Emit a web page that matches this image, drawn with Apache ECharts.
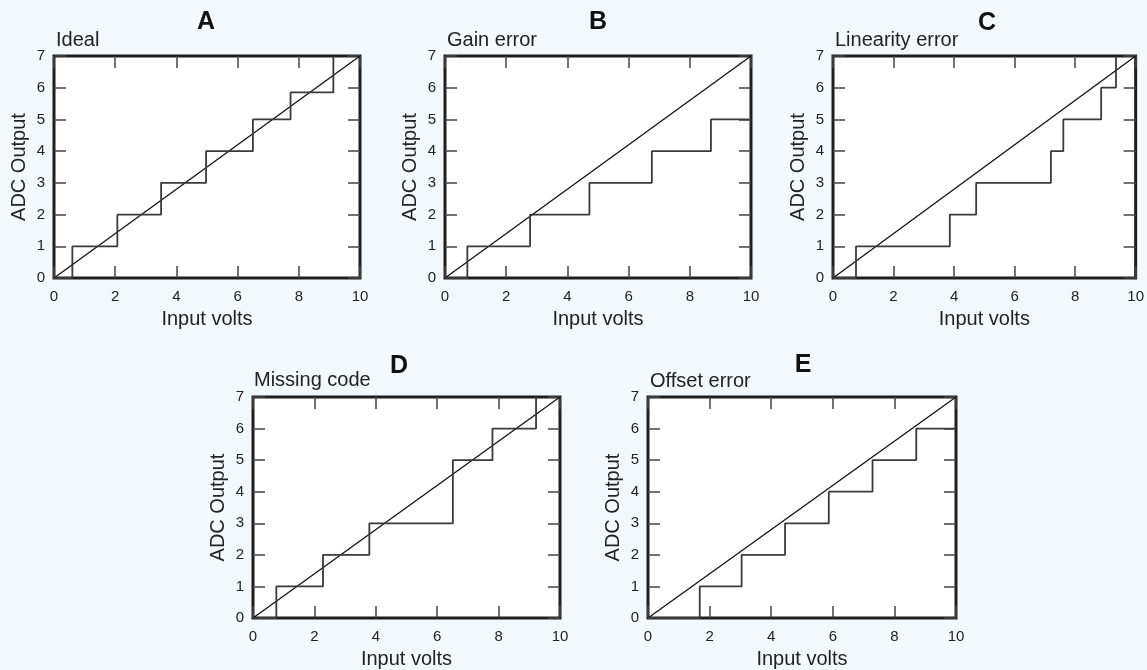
<!DOCTYPE html>
<html>
<head>
<meta charset="utf-8">
<script src="https://cdn.jsdelivr.net/npm/echarts@6/dist/echarts.min.js"></script>
<style>
html,body{margin:0;padding:0;background:#f3f8fc;}
#c{width:1147px;height:670px;}
</style>
</head>
<body>
<div id="c"></div>
<script>
// ---- data ----
const panelLetters = ['A','B','C','D','E'];
const panelNames = ['Ideal','Gain error','Linearity error','Missing code','Offset error'];
const xAxisName = 'Input volts';
const yAxisName = 'ADC Output';
const xRange = [0, 10];
const yRange = [0, 7];
const xStep = 2;
const yStep = 1;
// ideal reference line (input volts -> code)
const refX = [0, 10];
const refY = [0, 7];
// transition points of each ADC transfer curve
const idealX = [0, 0.6, 2.07, 3.5, 4.97, 6.5, 7.73, 9.13];
const idealY = [0, 1, 2, 3, 4, 5, 5.85, 7];
const gainX  = [0, 0.73, 2.78, 4.72, 6.76, 8.69, 10];
const gainY  = [0, 1, 2, 3, 4, 5, 5];
const linX   = [0, 0.76, 3.86, 4.73, 7.2, 7.61, 8.86, 9.35];
const linY   = [0, 1, 2, 3, 4, 5, 6, 7];
const missX  = [0, 0.76, 2.28, 3.79, 6.51, 7.8, 9.22];
const missY  = [0, 1, 2, 3, 5, 6, 7];
const offX   = [0, 1.68, 3.04, 4.45, 5.87, 7.29, 8.71, 10];
const offY   = [0, 1, 2, 3, 4, 5, 6, 6];

const curvesX = [idealX, gainX, linX, missX, offX];
const curvesY = [idealY, gainY, linY, missY, offY];

// ---- layout ----
const layout = [
  {left: 54,  top: 56,  width: 306, height: 222, letterX: 206, letterY: 22,  subX: 56,  subY: 40},
  {left: 445, top: 56,  width: 306, height: 222, letterX: 598, letterY: 22,  subX: 447, subY: 40},
  {left: 833, top: 56,  width: 306, height: 222, letterX: 987, letterY: 23,  subX: 835, subY: 40},
  {left: 253, top: 397, width: 307, height: 223, letterX: 399, letterY: 366, subX: 254, subY: 380},
  {left: 648, top: 397, width: 308, height: 223, letterX: 803, letterY: 365, subX: 650, subY: 381}
];

const FONT = '"Liberation Sans", Arial, Helvetica, sans-serif';
const TXT = '#222';

const zip = (a, b) => a.map((v, i) => [v, b[i]]);

const grid = [], xAxis = [], yAxis = [], series = [], graphic = [];
layout.forEach((L, i) => {
  grid.push({
    left: L.left, top: L.top, width: L.width, height: L.height,
    show: true, backgroundColor: '#ffffff', borderColor: '#1e1e1e', borderWidth: 3
  });
  const tick = {show: true, inside: true, length: 12, lineStyle: {color: '#444', width: 1.5}};
  const noLine = {show: false, onZero: false};
  xAxis.push({
    gridIndex: i, type: 'value', min: xRange[0], max: xRange[1], interval: xStep,
    position: 'bottom',
    name: xAxisName, nameLocation: 'middle', nameGap: 31,
    nameTextStyle: {fontFamily: FONT, fontSize: 20, color: TXT},
    axisLine: noLine, axisTick: tick, splitLine: {show: false},
    axisLabel: {fontFamily: FONT, fontSize: 15, color: TXT, margin: 11}
  });
  xAxis.push({
    gridIndex: i, type: 'value', min: xRange[0], max: xRange[1], interval: xStep,
    position: 'top',
    axisLine: noLine, axisTick: tick, splitLine: {show: false},
    axisLabel: {show: false}
  });
  yAxis.push({
    gridIndex: i, type: 'value', min: yRange[0], max: yRange[1], interval: yStep,
    position: 'left',
    name: yAxisName, nameLocation: 'middle', nameGap: 25, nameRotate: 90,
    nameTextStyle: {fontFamily: FONT, fontSize: 20, color: TXT},
    axisLine: noLine, axisTick: tick, splitLine: {show: false},
    axisLabel: {fontFamily: FONT, fontSize: 15, color: TXT, margin: 9, padding: [4, 0, 0, 0]}
  });
  yAxis.push({
    gridIndex: i, type: 'value', min: yRange[0], max: yRange[1], interval: yStep,
    position: 'right',
    axisLine: noLine, axisTick: tick, splitLine: {show: false},
    axisLabel: {show: false}
  });
  series.push({
    type: 'line', xAxisIndex: 2 * i, yAxisIndex: 2 * i,
    data: zip(refX, refY), showSymbol: false, silent: true,
    lineStyle: {color: '#111', width: 1.3}, z: 3
  });
  series.push({
    type: 'line', xAxisIndex: 2 * i, yAxisIndex: 2 * i, step: 'end',
    data: zip(curvesX[i], curvesY[i]), showSymbol: false, silent: true,
    lineStyle: {color: '#3a3a3a', width: 1.8}, z: 4
  });
  graphic.push({
    type: 'text', x: L.letterX, y: L.letterY,
    style: {text: panelLetters[i], fontFamily: FONT, fontSize: 25, fontWeight: 'bold',
            fill: '#111', textAlign: 'center', textVerticalAlign: 'middle'}
  });
  graphic.push({
    type: 'text', x: L.subX, y: L.subY,
    style: {text: panelNames[i], fontFamily: FONT, fontSize: 20,
            fill: TXT, textAlign: 'left', textVerticalAlign: 'middle'}
  });
});

const chart = echarts.init(document.getElementById('c'), null, {renderer: 'canvas'});
chart.setOption({
  backgroundColor: '#f3f8fc',
  animation: false,
  grid, xAxis, yAxis, series, graphic
});
</script>
</body>
</html>
